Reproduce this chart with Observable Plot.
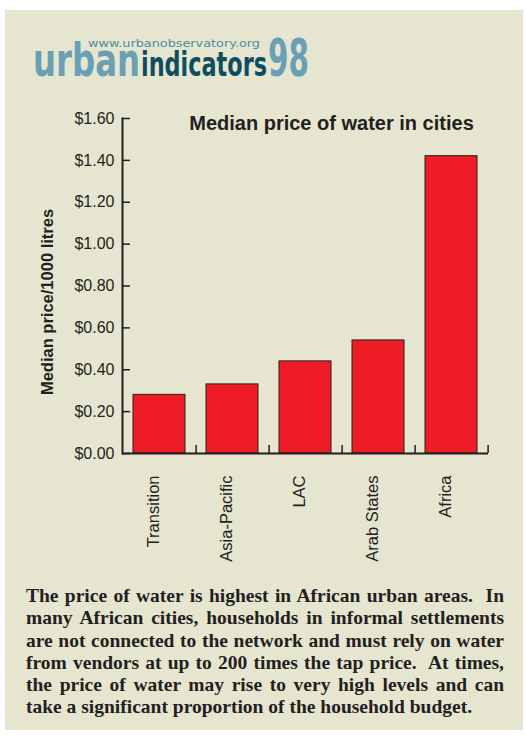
<!DOCTYPE html>
<html>
<head>
<meta charset="utf-8">
<script src="https://cdn.jsdelivr.net/npm/d3@7"></script>
<script src="https://cdn.jsdelivr.net/npm/@observablehq/plot@0.6"></script>
<style>
  body { margin: 0; background: #fff; width: 526px; height: 737px; position: relative; overflow: hidden; }
  #panel { position: absolute; left: 5px; top: 10px; width: 518px; height: 720px; background: #e6e5cf; }
  #logo { position: absolute; left: 0; top: 0; }
  #chart { position: absolute; left: 0; top: 100px; }
  #caption { position: absolute; left: 26px; top: 585px; width: 478px;
    font-family: "Liberation Serif", "Times New Roman", serif; font-weight: bold;
    font-size: 19.5px; line-height: 22.3px; color: #231f20; }
  #caption div { text-align: justify; text-align-last: justify; white-space: nowrap; }
  #caption div.last { text-align-last: left; }
</style>
</head>
<body>
<div id="panel"></div>
<svg id="logo" width="526" height="100" xmlns="http://www.w3.org/2000/svg">
  <text x="33" y="76" font-family="DejaVu Sans" font-weight="bold" font-size="47" fill="#6a9fb5" textLength="107" lengthAdjust="spacingAndGlyphs">urban</text>
  <text x="141" y="76" font-family="DejaVu Sans" font-weight="bold" font-size="34" fill="#0e4d5f" textLength="126" lengthAdjust="spacingAndGlyphs">indicators</text>
  <text x="268" y="76" font-family="DejaVu Sans" font-weight="bold" font-size="51" fill="#6a9fb5" textLength="41" lengthAdjust="spacingAndGlyphs">98</text>
  <text x="88" y="47" font-family="DejaVu Sans" font-size="10" fill="#4d8ca0" textLength="172" lengthAdjust="spacingAndGlyphs">www.urbanobservatory.org</text>
</svg>
<div id="chart"></div>
<div id="caption">
  <div>The price of water is highest in African urban areas.&nbsp; In</div>
  <div>many African cities, households in informal settlements</div>
  <div>are not connected to the network and must rely on water</div>
  <div>from vendors at up to 200 times the tap price.&nbsp; At times,</div>
  <div>the price of water may rise to very high levels and can</div>
  <div class="last">take a significant proportion of the household budget.</div>
</div>
<script>
const categories = ["Transition", "Asia-Pacific", "LAC", "Arab States", "Africa"];
const prices = [0.28, 0.33, 0.44, 0.54, 1.42];
const yTicks = [0, 0.2, 0.4, 0.6, 0.8, 1.0, 1.2, 1.4, 1.6];
const chartTitle = "Median price of water in cities";
const yLabel = "Median price/1000 litres";

const data = categories.map((c, i) => ({region: c, price: prices[i]}));

const W = 526, H = 470, mL = 122, mR = 38, mT = 18, mB = 117;
const step = (W - mL - mR) / categories.length;
const ink = "#231f20";

const chart = Plot.plot({
  width: W, height: H,
  marginLeft: mL, marginRight: mR, marginTop: mT, marginBottom: mB,
  style: { background: "transparent", fontFamily: "Liberation Sans, Arial, sans-serif", color: ink },
  x: { domain: categories, paddingInner: 0.29, paddingOuter: 0.145, label: null },
  y: { domain: [0, 1.6], label: null },
  marks: [
    Plot.barY(data, { x: "region", y: "price", fill: "#ee1d25", stroke: "#231f20", strokeWidth: 1 }),
    // y labels
    Plot.axisY(yTicks, { tickSize: 0, tickPadding: 8, fontSize: 16, fill: ink, tickFormat: d => "$" + d.toFixed(2) }),
    // inward y ticks
    Plot.axisY(yTicks, { tickSize: 8, dx: 8, text: null, stroke: ink, strokeWidth: 1.5 }),
    // x labels
    Plot.axisX({ tickSize: 0, tickPadding: 22, tickRotate: -90, fontSize: 16.5, fill: ink, dx: -6 }),
    // category boundary ticks (upward)
    Plot.axisX({ tickSize: 8, dy: -8, dx: step / 2, text: null, stroke: ink, strokeWidth: 1.5 }),
    Plot.frame({ anchor: "left", stroke: ink, strokeWidth: 2 }),
    Plot.ruleY([0], { stroke: ink, strokeWidth: 2 }),
    Plot.text([chartTitle], { frameAnchor: "top", text: d => d, dx: 26, dy: 5, fontSize: 20, fontWeight: "bold", fill: ink, lineAnchor: "middle" }),
    Plot.text([yLabel], { frameAnchor: "left", text: d => d, rotate: -90, textAnchor: "middle", dx: -75, dy: 16, fontSize: 16.5, fontWeight: "bold", fill: ink })
  ]
});
document.getElementById("chart").appendChild(chart);
</script>
</body>
</html>
